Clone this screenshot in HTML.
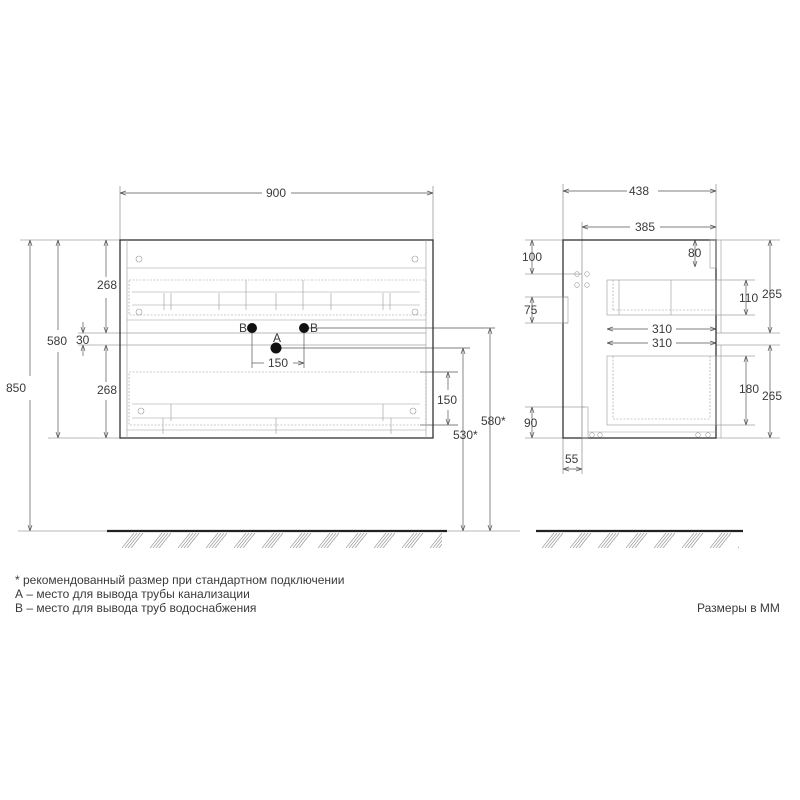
<!DOCTYPE html>
<html><head><meta charset="utf-8"><style>
html,body{margin:0;padding:0;background:#fff;width:800px;height:800px;overflow:hidden}
svg{display:block}
text{font-family:"Liberation Sans",sans-serif;fill:#3a3a3a;font-size:12px}
</style></head><body>
<svg width="800" height="800" viewBox="0 0 800 800" xmlns="http://www.w3.org/2000/svg">
<defs>
<marker id="a" markerWidth="6" markerHeight="6" refX="6" refY="3" orient="auto-start-reverse" markerUnits="userSpaceOnUse"><path d="M0,1 L6,3 L0,5" fill="none" stroke="#555" stroke-width="0.7"/></marker>
<pattern id="h" x="122" y="533" width="28" height="16" patternUnits="userSpaceOnUse">
<g stroke="#999" stroke-width="0.7"><line x1="0" y1="15" x2="12" y2="0"/><line x1="3" y1="15" x2="15" y2="0"/><line x1="6" y1="15" x2="18" y2="0"/><line x1="9" y1="15" x2="21" y2="0"/></g>
</pattern>
</defs>
<g fill="none" stroke="#777" stroke-width="0.6">
<line x1="120" y1="186" x2="120" y2="240"/><line x1="433" y1="186" x2="433" y2="240"/>
<line x1="20" y1="240" x2="120" y2="240"/><line x1="48" y1="438" x2="120" y2="438"/>
<line x1="78" y1="333" x2="426" y2="333"/><line x1="78" y1="345" x2="426" y2="345"/>
<line x1="18" y1="531" x2="107" y2="531"/><line x1="447" y1="531" x2="520" y2="531"/>
</g>
<g fill="none" stroke="#555" stroke-width="0.7">
<line x1="120" y1="193" x2="262" y2="193" marker-start="url(#a)"/><line x1="291" y1="193" x2="433" y2="193" marker-end="url(#a)"/>
<line x1="30" y1="240" x2="30" y2="376" marker-start="url(#a)"/><line x1="30" y1="400" x2="30" y2="531" marker-end="url(#a)"/>
<line x1="58" y1="240" x2="58" y2="330" marker-start="url(#a)"/><line x1="58" y1="352" x2="58" y2="438" marker-end="url(#a)"/>
<line x1="106" y1="240" x2="106" y2="277" marker-start="url(#a)"/><line x1="106" y1="298" x2="106" y2="333" marker-end="url(#a)"/>
<line x1="106" y1="345" x2="106" y2="382" marker-start="url(#a)"/><line x1="106" y1="400" x2="106" y2="438" marker-end="url(#a)"/>
<line x1="83" y1="322" x2="83" y2="333" marker-end="url(#a)"/><line x1="83" y1="356" x2="83" y2="345" marker-end="url(#a)"/>
<line x1="252" y1="363" x2="264" y2="363"/><line x1="293" y1="363" x2="304" y2="363" marker-end="url(#a)"/>
<line x1="252" y1="328" x2="252" y2="368"/><line x1="304" y1="328" x2="304" y2="368"/>
<line x1="304" y1="328" x2="495" y2="328"/><line x1="276" y1="348" x2="470" y2="348"/>
<line x1="490" y1="328" x2="490" y2="531" marker-start="url(#a)" marker-end="url(#a)"/>
<line x1="463" y1="348" x2="463" y2="531" marker-start="url(#a)" marker-end="url(#a)"/>
<line x1="420" y1="372" x2="458" y2="372"/><line x1="420" y1="425" x2="458" y2="425"/>
<line x1="448" y1="372" x2="448" y2="390" marker-start="url(#a)"/><line x1="448" y1="410" x2="448" y2="425" marker-end="url(#a)"/>
</g>
<rect x="120" y="240" width="313" height="198" fill="none" stroke="#333" stroke-width="1.3"/>
<g fill="none" stroke="#999" stroke-width="0.6">
<line x1="127" y1="240" x2="127" y2="438"/><line x1="426" y1="240" x2="426" y2="438"/>
<line x1="127" y1="268" x2="426" y2="268"/>
<rect x="129" y="280" width="297" height="35" stroke-dasharray="2,1.5"/>
<line x1="127" y1="320" x2="426" y2="320"/>
<rect x="129" y="372" width="297" height="53" stroke-dasharray="2,1.5"/>
<line x1="127" y1="430" x2="426" y2="430"/>
<line x1="132" y1="292" x2="420" y2="292"/><line x1="132" y1="305" x2="420" y2="305"/>
<line x1="132" y1="404" x2="420" y2="404"/><line x1="132" y1="418" x2="420" y2="418"/>
<line x1="164" y1="293" x2="164" y2="310"/><line x1="171" y1="293" x2="171" y2="310"/><line x1="219" y1="293" x2="219" y2="310"/>
<line x1="246" y1="280" x2="246" y2="310"/><line x1="276" y1="293" x2="276" y2="310"/><line x1="303" y1="280" x2="303" y2="310"/>
<line x1="331" y1="293" x2="331" y2="310"/><line x1="383" y1="293" x2="383" y2="310"/><line x1="390" y1="293" x2="390" y2="310"/>
<line x1="171" y1="404" x2="171" y2="421"/><line x1="163" y1="418" x2="163" y2="434"/><line x1="276" y1="418" x2="276" y2="434"/>
<line x1="383" y1="404" x2="383" y2="421"/><line x1="391" y1="418" x2="391" y2="434"/>
<circle cx="139" cy="259" r="3"/><circle cx="415" cy="259" r="3"/><circle cx="139" cy="312" r="3"/><circle cx="415" cy="312" r="3"/>
<circle cx="141" cy="411" r="3"/><circle cx="413" cy="411" r="3"/>
</g>
<circle cx="252" cy="328" r="5" fill="#111"/><circle cx="304" cy="328" r="5" fill="#111"/><circle cx="276" cy="348" r="5.5" fill="#111"/>
<g font-size="11">
<text x="276" y="197" text-anchor="middle" font-size="12">900</text>
<text x="6" y="392">850</text><text x="47" y="345">580</text>
<text x="97" y="289">268</text><text x="97" y="394">268</text><text x="76" y="344">30</text>
<text x="278" y="367" text-anchor="middle">150</text>
<text x="437" y="404">150</text><text x="481" y="425">580*</text><text x="453" y="439">530*</text>
<text x="239" y="332" font-size="8" fill="#666">B</text><text x="310" y="332" font-size="8" fill="#666">B</text><text x="273" y="342" font-size="8" fill="#666">A</text>
</g>
<line x1="107" y1="531" x2="447" y2="531" stroke="#222" stroke-width="2.2"/>
<rect x="122" y="533" width="320" height="15" fill="url(#h)"/>
<line x1="536" y1="531" x2="743" y2="531" stroke="#222" stroke-width="2.2"/>
<rect x="539" y="533" width="200" height="15" fill="url(#h)"/>
<g fill="none" stroke="#777" stroke-width="0.6">
<line x1="563" y1="184" x2="563" y2="240"/><line x1="716" y1="184" x2="716" y2="240"/>
<line x1="582" y1="222" x2="582" y2="474"/><line x1="563" y1="438" x2="563" y2="474"/>
<line x1="525" y1="240" x2="563" y2="240"/><line x1="525" y1="274" x2="582" y2="274"/>
<line x1="525" y1="297" x2="568" y2="297"/><line x1="525" y1="323" x2="568" y2="323"/>
<line x1="525" y1="407" x2="585" y2="407"/><line x1="525" y1="438" x2="563" y2="438"/>
<line x1="716" y1="240" x2="780" y2="240"/><line x1="716" y1="438" x2="780" y2="438"/>
<line x1="716" y1="333" x2="780" y2="333"/><line x1="716" y1="345" x2="780" y2="345"/>
<line x1="716" y1="280" x2="755" y2="280"/><line x1="716" y1="315" x2="755" y2="315"/>
<line x1="716" y1="356" x2="755" y2="356"/><line x1="716" y1="425" x2="755" y2="425"/>
</g>
<g fill="none" stroke="#555" stroke-width="0.7">
<line x1="563" y1="191" x2="627" y2="191" marker-start="url(#a)"/><line x1="658" y1="191" x2="716" y2="191" marker-end="url(#a)"/>
<line x1="582" y1="227" x2="630" y2="227" marker-start="url(#a)"/><line x1="660" y1="227" x2="716" y2="227" marker-end="url(#a)"/>
<line x1="532" y1="240" x2="532" y2="274" marker-start="url(#a)" marker-end="url(#a)"/>
<line x1="532" y1="297" x2="532" y2="323" marker-start="url(#a)" marker-end="url(#a)"/>
<line x1="532" y1="407" x2="532" y2="438" marker-start="url(#a)" marker-end="url(#a)"/>
<line x1="563" y1="469" x2="582" y2="469" marker-start="url(#a)" marker-end="url(#a)"/>
<line x1="695" y1="240" x2="695" y2="267" marker-start="url(#a)" marker-end="url(#a)"/>
<line x1="746" y1="280" x2="746" y2="315" marker-start="url(#a)" marker-end="url(#a)"/>
<line x1="746" y1="356" x2="746" y2="425" marker-start="url(#a)" marker-end="url(#a)"/>
<line x1="770" y1="240" x2="770" y2="333" marker-start="url(#a)" marker-end="url(#a)"/>
<line x1="770" y1="345" x2="770" y2="438" marker-start="url(#a)" marker-end="url(#a)"/>
<line x1="607" y1="329" x2="648" y2="329" marker-start="url(#a)"/><line x1="676" y1="329" x2="716" y2="329" marker-end="url(#a)"/>
<line x1="607" y1="343" x2="648" y2="343" marker-start="url(#a)"/><line x1="676" y1="343" x2="716" y2="343" marker-end="url(#a)"/>
</g>
<rect x="563" y="240" width="153" height="198" fill="none" stroke="#333" stroke-width="1.3"/>
<g fill="none" stroke="#999" stroke-width="0.6">
<line x1="721" y1="240" x2="721" y2="333"/><line x1="721" y1="345" x2="721" y2="438"/>
<rect x="710" y="240" width="6" height="28"/>
<rect x="607" y="280" width="109" height="35"/>
<line x1="613" y1="280" x2="613" y2="310" stroke-dasharray="2,1.5"/><line x1="613" y1="310" x2="716" y2="310" stroke-dasharray="2,1.5"/>
<line x1="619" y1="280" x2="619" y2="315"/><line x1="671" y1="280" x2="671" y2="315"/>
<rect x="607" y="356" width="109" height="69"/>
<line x1="613" y1="356" x2="613" y2="419" stroke-dasharray="2,1.5"/><line x1="613" y1="419" x2="710" y2="419" stroke-dasharray="2,1.5"/>
<line x1="710" y1="356" x2="710" y2="419" stroke-dasharray="2,1.5"/>
<rect x="563" y="297" width="5" height="26"/><rect x="582" y="407" width="6" height="31"/>
<line x1="588" y1="432" x2="716" y2="432"/>
<circle cx="577" cy="274" r="2.3"/><circle cx="587" cy="274" r="2.3"/><circle cx="577" cy="285" r="2.3"/><circle cx="587" cy="285" r="2.3"/>
<circle cx="592" cy="435" r="2.3"/><circle cx="600" cy="435" r="2.3"/><circle cx="698" cy="435" r="2.3"/><circle cx="708" cy="435" r="2.3"/>
</g>
<g font-size="12">
<text x="639" y="195" text-anchor="middle">438</text><text x="645" y="231" text-anchor="middle">385</text>
<text x="522" y="261">100</text><text x="524" y="314">75</text><text x="524" y="427">90</text><text x="565" y="463">55</text>
<text x="688" y="257">80</text><text x="739" y="302">110</text><text x="762" y="298">265</text>
<text x="662" y="333" text-anchor="middle">310</text><text x="662" y="347" text-anchor="middle">310</text>
<text x="739" y="393">180</text><text x="762" y="400">265</text>
</g>
<g font-size="11.5">
<text x="15" y="584">* рекомендованный размер при стандартном подключении</text>
<text x="15" y="598">А – место для вывода трубы канализации</text>
<text x="15" y="612">В – место для вывода труб водоснабжения</text>
<text x="697" y="612">Размеры в ММ</text>
</g>
</svg>
</body></html>
